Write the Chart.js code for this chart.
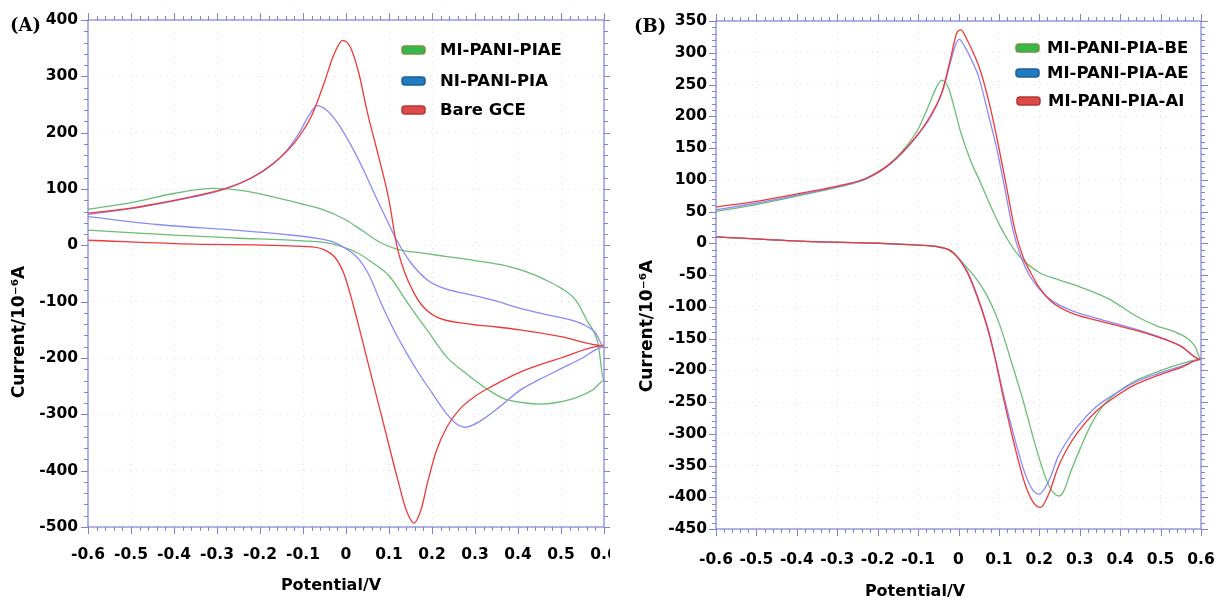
<!DOCTYPE html>
<html>
<head>
<meta charset="utf-8">
<script src="https://cdn.jsdelivr.net/npm/chart.js@4.4.1/dist/chart.umd.min.js"></script>
<style>
  html, body { margin: 0; padding: 0; background: #fff; }
  #wrap { position: relative; width: 1221px; height: 604px; overflow: hidden; }
  canvas { position: absolute; top: 0; }
</style>
</head>
<body>
<div id="wrap">
  <canvas id="chartA" width="610" height="604" style="left:0"></canvas>
  <canvas id="chartB" width="611" height="604" style="left:610px"></canvas>
</div>
<script>
// --- datos: [potencial V, corriente 10^-6 A], barrido ida y vuelta ---
const piaeA = [
  [-0.6,64],[-0.5,76],[-0.4,92],[-0.31,101],[-0.24,97],[-0.17,86],[-0.11,75],[-0.06,65],[0,45],[0.04,25],[0.08,5],
  [0.12,-7],[0.18,-14],[0.235,-20],[0.3,-27],[0.37,-36],[0.42,-47],[0.46,-60],[0.5,-76],[0.535,-98],[0.56,-133],[0.586,-174],[0.6,-240],
  [0.575,-256],[0.537,-270],[0.49,-279],[0.451,-282],[0.41,-279],[0.37,-273],[0.326,-254],[0.28,-228],[0.235,-199],[0.19,-152],
  [0.144,-103],[0.1,-54],[0.06,-30],[0.028,-14],[-0.035,3],[-0.1,8],[-0.26,13],[-0.4,18],[-0.6,27]
];
const niPiaA = [
  [-0.6,55],[-0.5,65],[-0.44,73],[-0.36,85],[-0.28,100],[-0.2,128],[-0.15,158],[-0.11,198],[-0.085,232],[-0.067,248],[-0.045,240],
  [-0.02,218],[0.01,180],[0.04,135],[0.07,85],[0.095,45],[0.118,9],[0.15,-30],[0.19,-62],[0.23,-77],[0.28,-86],[0.34,-97],[0.405,-112],
  [0.46,-122],[0.51,-130],[0.55,-140],[0.58,-155],[0.6,-180],
  [0.55,-200],[0.5,-219],[0.45,-238],[0.405,-257],[0.36,-285],[0.32,-308],[0.295,-319],[0.277,-323],[0.255,-316],[0.23,-295],
  [0.2,-262],[0.17,-228],[0.14,-190],[0.11,-148],[0.08,-100],[0.055,-55],[0.03,-25],[0,-6],[-0.03,6],[-0.063,12],[-0.15,20],
  [-0.26,27],[-0.44,37],[-0.6,51]
];
const bareGceA = [
  [-0.6,57],[-0.5,66],[-0.44,74],[-0.36,86],[-0.28,101],[-0.22,120],[-0.17,145],[-0.12,182],[-0.08,230],[-0.05,290],[-0.03,335],
  [-0.008,364],[0.01,352],[0.03,305],[0.05,235],[0.075,160],[0.1,80],[0.118,0],[0.135,-45],[0.155,-80],[0.175,-105],[0.21,-127],
  [0.28,-139],[0.35,-145],[0.405,-150],[0.5,-162],[0.6,-178],
  [0.5,-200],[0.405,-225],[0.34,-250],[0.3,-268],[0.263,-292],[0.235,-322],[0.21,-365],[0.19,-420],[0.175,-468],[0.158,-493],
  [0.14,-470],[0.12,-415],[0.09,-325],[0.05,-205],[0.014,-98],[-0.005,-50],[-0.025,-22],[-0.053,-7],[-0.1,-2],[-0.35,2],[-0.6,9]
];

const piaBeB = [
  [-0.6,50],[-0.5,61],[-0.38,77],[-0.3,88],[-0.23,101],[-0.17,125],[-0.13,152],[-0.1,180],[-0.075,215],[-0.055,245],[-0.042,257],
  [-0.025,245],[-0.01,212],[0.006,174],[0.03,130],[0.054,96],[0.08,58],[0.103,27],[0.125,2],[0.15,-20],[0.2,-46],[0.25,-58],
  [0.297,-68],[0.373,-88],[0.44,-115],[0.49,-130],[0.537,-140],[0.585,-162],[0.6,-183],
  [0.55,-190],[0.49,-203],[0.44,-216],[0.393,-235],[0.355,-258],[0.326,-288],[0.3,-325],[0.277,-361],[0.262,-388],[0.25,-398],
  [0.235,-393],[0.219,-375],[0.19,-318],[0.16,-248],[0.13,-185],[0.1,-125],[0.075,-88],[0.045,-57],[0.015,-34],[-0.015,-15],
  [-0.042,-6],[-0.1,-3],[-0.2,0],[-0.38,3],[-0.6,10]
];
const piaAeB = [
  [-0.6,53],[-0.5,63],[-0.38,78],[-0.3,89],[-0.23,101],[-0.17,124],[-0.11,163],[-0.07,198],[-0.04,238],[-0.02,285],[-0.005,316],
  [0.002,321],[0.015,310],[0.035,285],[0.05,262],[0.075,200],[0.095,148],[0.115,85],[0.135,20],[0.155,-22],[0.175,-50],[0.2,-72],
  [0.23,-90],[0.28,-106],[0.34,-118],[0.42,-132],[0.49,-146],[0.55,-162],[0.6,-183],
  [0.55,-194],[0.49,-206],[0.43,-221],[0.39,-236],[0.34,-258],[0.295,-288],[0.265,-315],[0.245,-338],[0.225,-372],[0.2,-395],
  [0.183,-388],[0.163,-360],[0.14,-310],[0.112,-240],[0.09,-178],[0.07,-128],[0.045,-80],[0.02,-42],[-0.014,-14],[-0.05,-6],
  [-0.1,-3],[-0.2,0],[-0.38,3],[-0.6,10]
];
const piaAiB = [
  [-0.6,57],[-0.5,66],[-0.38,80],[-0.3,90],[-0.23,102],[-0.17,125],[-0.11,164],[-0.07,200],[-0.04,240],[-0.02,290],[-0.005,330],
  [0.006,336],[0.02,322],[0.04,295],[0.055,270],[0.08,210],[0.1,150],[0.12,85],[0.14,20],[0.16,-22],[0.18,-48],[0.2,-70],[0.23,-92],
  [0.28,-110],[0.34,-121],[0.42,-134],[0.49,-147],[0.55,-162],[0.6,-183],
  [0.55,-196],[0.49,-209],[0.43,-225],[0.39,-241],[0.34,-265],[0.295,-298],[0.265,-328],[0.245,-355],[0.225,-392],[0.203,-416],
  [0.185,-408],[0.165,-380],[0.14,-322],[0.112,-246],[0.09,-180],[0.07,-130],[0.045,-82],[0.02,-44],[-0.014,-14],[-0.05,-6],
  [-0.1,-3],[-0.2,0],[-0.38,3],[-0.6,10]
];

const etiquetasA = ['MI-PANI-PIAE', 'NI-PANI-PIA', 'Bare GCE'];
const etiquetasB = ['MI-PANI-PIA-BE', 'MI-PANI-PIA-AE', 'MI-PANI-PIA-AI'];
const xTicks = [-0.6, -0.5, -0.4, -0.3, -0.2, -0.1, 0, 0.1, 0.2, 0.3, 0.4, 0.5, 0.6];

const colorLinea = ['rgb(108,190,118)', 'rgb(138,138,248)', 'rgb(236,58,58)'];
const colorCaja = ['#35b84a', '#1f7cc0', '#dd4a4a'];
const bordeCaja = ['#77913c', '#1d5f96', '#b53434'];
const colorEje = 'rgb(128,128,212)';
const fuente = '"DejaVu Sans", sans-serif';

// marco con ticks menores, titulos y leyenda
const marcoPlugin = {
    id: 'marco',
    afterDraw(chart, args, o) {
        const ctx = chart.ctx;
        const { left, right, top, bottom } = chart.chartArea;
        const sx = chart.scales.x, sy = chart.scales.y;
        ctx.save();
        ctx.strokeStyle = colorEje;
        ctx.lineWidth = 1.2;
        ctx.strokeRect(left, top, right - left, bottom - top);
        ctx.lineWidth = 1;
        ctx.beginPath();
        const nx = Math.round(1.2 / 0.02);
        for (let i = 0; i <= nx; i++) {
            const v = -0.6 + i * 0.02;
            const px = Math.round(sx.getPixelForValue(v)) + 0.5;
            const len = i % 5 === 0 ? 7 : 4;
            ctx.moveTo(px, bottom); ctx.lineTo(px, bottom + len);
            ctx.moveTo(px, top); ctx.lineTo(px, top - len);
        }
        const ny = Math.round((o.yMax - o.yMin) / o.yMinor);
        const cada = Math.round(o.yStep / o.yMinor);
        for (let i = 0; i <= ny; i++) {
            const v = o.yMin + i * o.yMinor;
            const py = Math.round(sy.getPixelForValue(v)) + 0.5;
            const len = i % cada === 0 ? 7 : 4;
            ctx.moveTo(left, py); ctx.lineTo(left - len, py);
            ctx.moveTo(right, py); ctx.lineTo(right + len, py);
        }
        ctx.stroke();

        ctx.fillStyle = '#000';
        ctx.font = 'bold 16px ' + fuente;
        ctx.textAlign = 'center';
        ctx.textBaseline = 'middle';
        ctx.fillText('Potential/V', o.xTitulo[0], o.xTitulo[1]);
        ctx.save();
        ctx.translate(o.yTitulo[0], o.yTitulo[1]);
        ctx.rotate(-Math.PI / 2);
        ctx.font = 'bold 17px ' + fuente;
        ctx.fillText('Current/10\u207B\u2076A', 0, 0);
        ctx.restore();

        ctx.font = 'bold 18px "DejaVu Serif", serif';
        ctx.textAlign = 'left';
        ctx.fillText(o.panel, o.panelPos[0], o.panelPos[1]);

        // leyenda
        ctx.font = 'bold 16.5px ' + fuente;
        chart.data.datasets.forEach((ds, i) => {
            const [bx, by] = o.leyenda[i];
            ctx.beginPath();
            ctx.roundRect(bx, by - 4, 23, 8, 3);
            ctx.fillStyle = colorCaja[i];
            ctx.fill();
            ctx.strokeStyle = bordeCaja[i];
            ctx.lineWidth = 1.5;
            ctx.stroke();
            ctx.fillStyle = '#000';
            ctx.fillText(ds.label, bx + o.textoDx, by + 1);
        });
        ctx.restore();
    }
};

function crearGrafico(id, series, etiquetas, cfg) {
    const datasets = series.map((s, i) => ({
        label: etiquetas[i],
        data: s.map(p => ({ x: p[0], y: p[1] })),
        showLine: true,
        borderColor: colorLinea[i],
        borderWidth: 1.3,
        pointRadius: 0,
        cubicInterpolationMode: 'monotone',
        order: series.length - i,
        fill: false
    }));
    return new Chart(document.getElementById(id), {
        type: 'scatter',
        data: { datasets: datasets },
        options: {
            responsive: false,
            animation: false,
            devicePixelRatio: 1,
            layout: { padding: { top: cfg.top, right: cfg.right, left: 0, bottom: 0 } },
            plugins: {
                legend: { display: false },
                tooltip: { enabled: false },
                marco: cfg.marco
            },
            scales: {
                x: {
                    type: 'linear', min: -0.6, max: 0.6,
                    afterBuildTicks: s => { s.ticks = xTicks.map(v => ({ value: v })); },
                    ticks: {
                        autoSkip: false, maxRotation: 0, padding: cfg.xPad, color: '#000',
                        font: { family: fuente, size: 15.5, weight: 'bold' },
                        callback: v => (Math.round(v * 10) / 10).toString()
                    },
                    grid: { color: 'rgba(190,190,232,0.55)', drawTicks: false },
                    border: { display: false, dash: [1, 5] },
                    afterFit: s => { s.height = cfg.xHeight; s.paddingLeft = 0; s.paddingRight = 0; }
                },
                y: {
                    min: cfg.marco.yMin, max: cfg.marco.yMax,
                    ticks: {
                        stepSize: cfg.marco.yStep, autoSkip: false, padding: cfg.yPad, color: '#000',
                        font: { family: fuente, size: 15.5, weight: 'bold' }
                    },
                    grid: { color: 'rgba(190,190,232,0.55)', drawTicks: false },
                    border: { display: false, dash: [1, 5] },
                    afterFit: s => { s.width = cfg.yWidth; s.paddingTop = 0; s.paddingBottom = 0; }
                }
            }
        },
        plugins: [marcoPlugin]
    });
}

document.addEventListener('DOMContentLoaded', () => {
    crearGrafico('chartA', [piaeA, niPiaA, bareGceA], etiquetasA, {
        top: 20, right: 6, xHeight: 77, yWidth: 88, xPad: 19, yPad: 10,
        marco: {
            yMin: -500, yMax: 400, yStep: 100, yMinor: 20,
            xTitulo: [331, 586], yTitulo: [20, 332],
            panel: '(A)', panelPos: [10, 26],
            leyenda: [[402, 50], [402, 81], [402, 110]], textoDx: 38
        }
    });
    crearGrafico('chartB', [piaBeB, piaAeB, piaAiB], etiquetasB, {
        top: 21, right: 20, xHeight: 75, yWidth: 106, xPad: 22, yPad: 9,
        marco: {
            yMin: -450, yMax: 350, yStep: 50, yMinor: 10,
            xTitulo: [305, 592], yTitulo: [38, 326],
            panel: '(B)', panelPos: [24, 27],
            leyenda: [[406, 48], [406, 73], [407, 101]], textoDx: 31
        }
    });
});
</script>
</body>
</html>
